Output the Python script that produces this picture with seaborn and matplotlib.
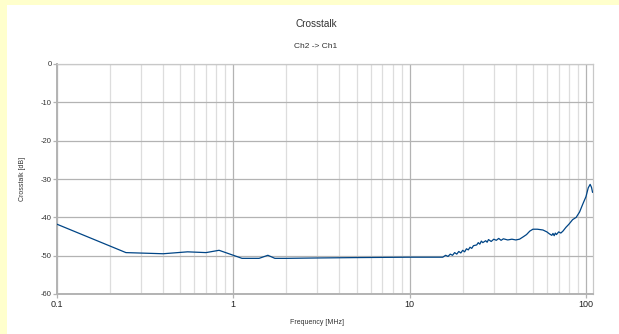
import matplotlib
matplotlib.use("Agg")
import matplotlib.pyplot as plt
import matplotlib.ticker as mticker
import matplotlib.patches as mpatches
import pandas as pd
import seaborn as sns

# Crosstalk Ch2 -> Ch1
freq_mhz = [0.1, 0.246, 0.4, 0.55, 0.7, 0.83, 1.0, 1.12, 1.4, 1.57, 1.72, 2.0, 3.0, 5.0,
            10.0, 14.0, 15.4, 16.0, 16.5, 17.0, 17.5, 18.0, 18.5, 19.0, 19.5, 20.0,
            20.5, 21.0, 21.5, 22.0, 22.5, 23.0, 24.0, 24.5, 25.0, 25.5, 26.0, 27.0,
            27.5, 28.0, 29.0, 30.0, 31.0, 32.0, 33.0, 34.0, 36.0, 38.0, 40.0, 42.0,
            44.0, 46.0, 48.0, 50.0, 53.0, 57.0, 60.0, 62.0, 64.0, 65.0, 66.0, 67.0,
            68.0, 70.0, 72.0, 74.0, 77.0, 80.0, 84.0, 88.0, 92.0, 96.0, 100.0, 103.0,
            105.6, 107.5, 109.0]
crosstalk_db = [-41.8, -49.2, -49.5, -49.0, -49.2, -48.6, -49.9, -50.7, -50.7, -49.9, -50.7,
                -50.7, -50.6, -50.5, -50.4, -50.4, -50.4, -49.9, -50.2, -49.6, -49.9,
                -49.2, -49.6, -48.9, -49.3, -48.6, -49.0, -48.2, -48.5, -47.8, -48.1,
                -47.4, -47.2, -46.6, -47.0, -46.2, -46.6, -46.1, -46.5, -45.8, -46.3,
                -45.7, -46.0, -45.5, -46.0, -45.6, -45.9, -45.7, -45.9, -45.7, -45.1,
                -44.5, -43.6, -43.1, -43.1, -43.3, -43.8, -44.3, -44.7, -44.2, -44.8,
                -44.1, -44.5, -43.8, -44.1, -43.6, -42.6, -41.8, -40.6, -40.0, -38.6,
                -36.5, -34.6, -32.3, -31.4, -32.2, -33.5]

x_ticks = [0.1, 1, 10, 100]
x_tick_labels = ["0.1", "1", "10", "100"]
y_ticks = [0, -10, -20, -30, -40, -50, -60]

df = pd.DataFrame({"Frequency": freq_mhz, "Crosstalk": crosstalk_db})

sns.set_theme(style="white")
plt.rcParams["font.family"] = ["Liberation Sans", "DejaVu Sans"]
plt.rcParams["axes.unicode_minus"] = False

W, H = 619, 334
fig = plt.figure(figsize=(W / 100, H / 100), dpi=100, facecolor="white")
# yellow frame on the left and top edges
frame = "#ffffcc"
fig.patches.append(mpatches.Rectangle((0, 0), 7 / W, 1, transform=fig.transFigure,
                                      facecolor=frame, edgecolor="none", zorder=-10))
fig.patches.append(mpatches.Rectangle((0, 1 - 5 / H), 1, 5 / H, transform=fig.transFigure,
                                      facecolor=frame, edgecolor="none", zorder=-10))

ax = fig.add_axes([57 / W, 1 - 294 / H, (593 - 57) / W, (294 - 64) / H])
ax.set_facecolor("white")

sns.lineplot(data=df, x="Frequency", y="Crosstalk", ax=ax, color="#004586",
             linewidth=0.9, zorder=3)

ax.set_xscale("log")
ax.set_xlim(0.1, 109.6)
ax.set_ylim(-60, 0)

ax.xaxis.set_major_locator(mticker.FixedLocator(x_ticks))
ax.xaxis.set_major_formatter(mticker.FixedFormatter(x_tick_labels))
ax.xaxis.set_minor_locator(mticker.LogLocator(base=10, subs=range(2, 10)))
ax.xaxis.set_minor_formatter(mticker.NullFormatter())
ax.set_yticks(y_ticks)

ax.grid(which="major", axis="both", color="#b3b3b3", linewidth=0.9)
ax.grid(which="minor", axis="x", color="#dddddd", linewidth=0.9)
ax.set_axisbelow(True)

for side in ["left", "bottom"]:
    ax.spines[side].set_color("#b3b3b3")
    ax.spines[side].set_linewidth(1.4)
for side in ["top", "right"]:
    ax.spines[side].set_color("#c8c8c8")
    ax.spines[side].set_linewidth(0.9)

ax.tick_params(axis="x", which="major", length=3, width=0.9, color="#b3b3b3",
               labelsize=6.5, labelcolor="#222222", pad=1, bottom=True)
ax.tick_params(axis="x", which="minor", length=0)
ax.tick_params(axis="y", length=3, width=0.9, color="#b3b3b3",
               labelsize=5.5, labelcolor="#333333", pad=1, left=True)

ax.set_xlabel("Frequency [MHz]", fontsize=5, color="#333333")
ax.set_ylabel("Crosstalk [dB]", fontsize=5, color="#333333")
ax.xaxis.set_label_coords((317 - 57) / (593 - 57), -(323 - 294) / (294 - 64))
ax.yaxis.set_label_coords(-(57 - 22) / (593 - 57), 0.5)
ax.xaxis.label.set_va("center")
ax.yaxis.label.set_va("center")

fig.text(316 / W, 1 - 24 / H, "Crosstalk", ha="center", va="center",
         fontsize=7.2, color="#333333")
fig.text(316 / W, 1 - 46 / H, "Ch2 -> Ch1", ha="center", va="center",
         fontsize=6, color="#333333")

fig.savefig("out.png", dpi=100, facecolor=fig.get_facecolor())
